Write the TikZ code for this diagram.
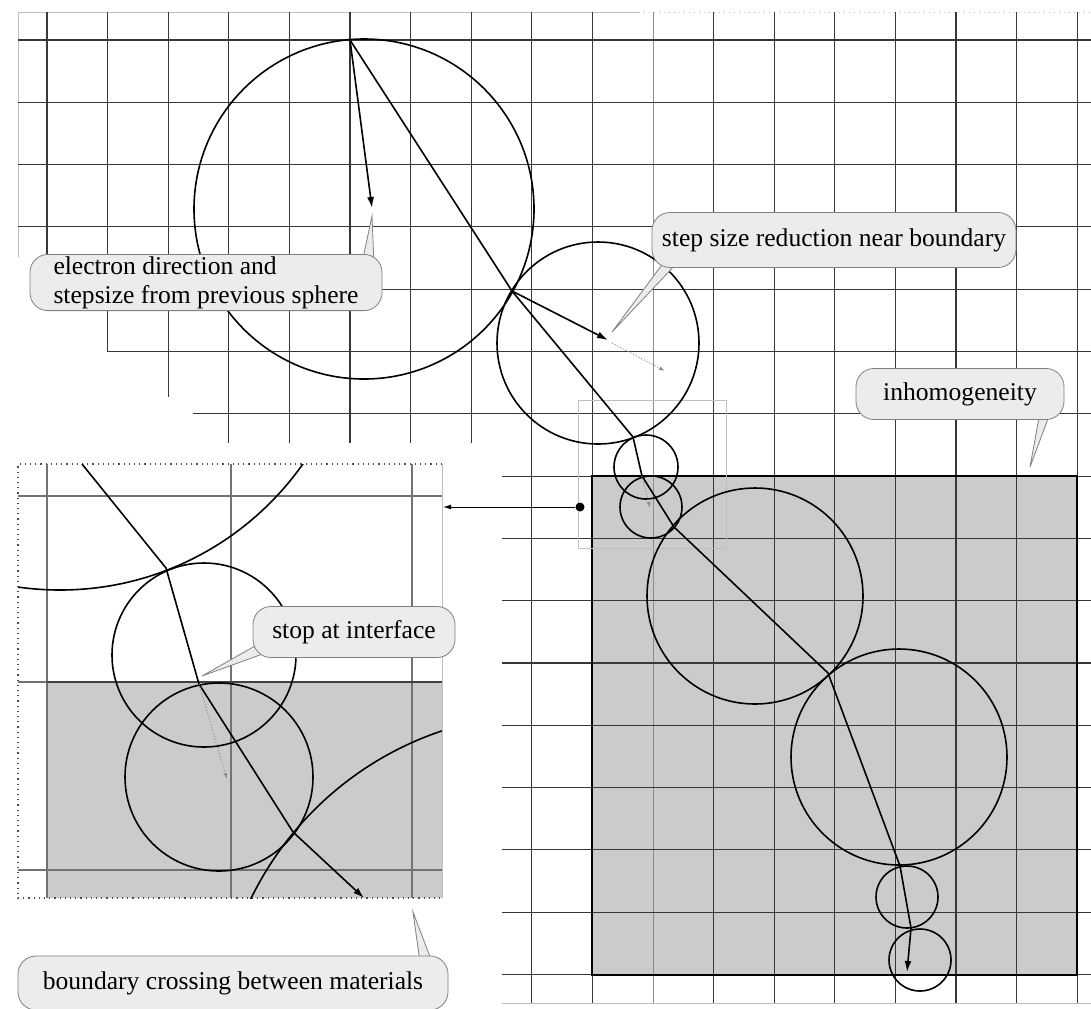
\documentclass[tikz,border=0pt]{standalone}
\usepackage{fontspec}
\setmainfont{Liberation Serif}
\usetikzlibrary{arrows.meta}
\definecolor{callfill}{HTML}{ECECEC}
\definecolor{matgray}{HTML}{CBCBCB}
\begin{document}
\begin{tikzpicture}[
	x=0.5pt, y=-0.5pt,
	grid/.style={black!78, line width=0.55pt},
	faint/.style={black!25, line width=0.5pt},
	sphere/.style={line width=0.8pt},
	track/.style={line width=0.8pt},
	arrow/.style={-{Latex[length=5.5pt, width=3.5pt]}},
	ghost/.style={black!45, densely dotted, line width=0.5pt, -{Latex[length=3pt, width=2pt]}},
	callout/.style={rectangle, rounded corners=9pt, fill=callfill, draw=black!50, line width=0.4pt, inner sep=1pt, font=\fontsize{12.8}{14.5}\selectfont},
	pointer/.style={fill=callfill, draw=black!50, line width=0.4pt}
]
	\useasboundingbox (0,0) rectangle (1091,1008);

	\fill[matgray] (592.4,476.1) rectangle (1077.2,974.5);
	\fill[matgray] (47,682) rectangle (442,898);

	\draw[faint] (18,257) -- (18,12) -- (639,12);
	\draw[faint, dotted] (639,12) -- (1091,12);
	\draw[faint] (502,1003) -- (1091,1003);
	\foreach \x/\e in {47/257, 107.6/351.5, 168.2/397, 228.8/443, 289.4/443, 350/443, 410.6/443, 471.2/443}
		\draw[grid] (\x,12) -- (\x,\e);
	\foreach \x in {531.8, 592.4, 713.6, 774.2, 834.8, 895.4, 956, 1016.6, 1077.2}
		\draw[grid] (\x,12) -- (\x,1003);
	\draw[black!45, line width=0.5pt] (653,12) -- (653,1003);
	\foreach \y/\s in {40/18, 102.3/18, 164.6/18, 226.9/18, 289.2/47, 351.5/107.6, 413.8/193}
		\draw[grid] (\s,\y) -- (1091,\y);
	\foreach \y in {476.1, 538.4, 600.7, 663, 725.3, 787.6, 849.9, 912.2, 974.5}
		\draw[grid] (502,\y) -- (1091,\y);
	\draw[line width=1pt] (592.4,476.1) rectangle (1077.2,974.5);

	\foreach \x in {47, 231, 412}
		\draw[grid, black!55] (\x,464) -- (\x,898);
	\foreach \y in {496, 682, 870}
		\draw[grid, black!55] (18,\y) -- (442,\y);
	\draw[black!75, line width=0.7pt] (47,682) -- (442,682);

	\draw[faint] (578,400) rectangle (726,548);
	\node[circle, fill, inner sep=0pt, minimum size=4.5pt] (dot) at (580,507) {};
	\coordinate (inset) at (443,507);
	\draw[line width=0.5pt, -{Latex[length=4pt, width=2.5pt]}] (dot) -- (inset);

	\draw[sphere] (364,209) circle[radius=170];
	\draw[sphere] (598,343) circle[radius=101];
	\draw[sphere] (646,467) circle[radius=32];
	\draw[sphere] (651,507) circle[radius=31];
	\draw[sphere] (755,596) circle[radius=108];
	\draw[sphere] (899,757) circle[radius=108];
	\draw[sphere] (907,897) circle[radius=31];
	\draw[sphere] (920,960) circle[radius=31];

	\coordinate (p0) at (350,40);
	\coordinate (p1) at (512,291);
	\coordinate (p2) at (633,437);
	\coordinate (p3) at (642,476);
	\coordinate (p4) at (674,527);
	\coordinate (p5) at (828,673);
	\coordinate (p6) at (900,866);
	\coordinate (p7) at (911,928);
	\coordinate (pend) at (907,972);
	\coordinate (d0) at (372,208);
	\coordinate (d1) at (608,340);
	\coordinate (g1a) at (612,343);
	\coordinate (g1) at (665,371);
	\coordinate (g2) at (650,508);

	\draw[track] (p0) -- (p1) -- (p2) -- (p3) -- (p4) -- (p5) -- (p6) -- (p7);
	\draw[track, arrow] (p7) -- (pend);
	\draw[track, arrow] (p0) -- (d0);
	\draw[track, arrow] (p1) -- (d1);
	\draw[ghost] (g1a) -- (g1);
	\draw[ghost] (p3) -- (g2);

	\begin{scope}
		\clip (18,464) rectangle (442,898);
		\draw[sphere] (60,293) circle[radius=297];
		\draw[sphere] (204,655) circle[radius=92];
		\draw[sphere] (219,777) circle[radius=94];
		\draw[sphere] (546,1042) circle[radius=328];
	\end{scope}
	\draw[black!70, dotted, line width=0.6pt] (442,464) -- (18,464) -- (18,898) -- (442,898);
	\draw[faint] (442,464) -- (442,898);

	\coordinate (q0) at (82,464);
	\coordinate (q1) at (166,568);
	\coordinate (q2) at (199,684);
	\coordinate (q3) at (293,832);
	\coordinate (qend) at (364,898);
	\coordinate (h2) at (227,779);
	\draw[track] (q0) -- (q1) -- (q2) -- (q3);
	\draw[track, arrow] (q3) -- (qend);
	\draw[ghost] (q2) -- (h2);

	\coordinate (tEl) at (372,216);
	\coordinate (tStep) at (612,332);
	\coordinate (tInh) at (1030,467);
	\coordinate (tStop) at (202,676);
	\coordinate (tBnd) at (413,912);

	\filldraw[pointer] (362,263) -- (tEl) -- (374,264);
	\node[callout, minimum width=176pt, minimum height=27.5pt, align=left] (cEl) at (206,282.5) {electron direction and\\stepsize from previous sphere};
	\filldraw[pointer] (664,262) -- (tStep) -- (678,262);
	\node[callout, minimum width=182pt, minimum height=27.5pt] (cStep) at (834,240) {step size reduction near boundary};
	\filldraw[pointer] (1040,412) -- (tInh) -- (1052,408);
	\node[callout, minimum width=104pt, minimum height=25.5pt] (cInh) at (960,394) {inhomogeneity};
	\filldraw[pointer] (262,642) -- (tStop) -- (268,652);
	\node[callout, minimum width=101pt, minimum height=25.5pt] (cStop) at (354,632) {stop at interface};
	\filldraw[pointer] (420,962) -- (tBnd) -- (432,962);
	\node[callout, minimum width=215pt, minimum height=27pt] (cBnd) at (233,983) {boundary crossing between materials};
\end{tikzpicture}
\end{document}
